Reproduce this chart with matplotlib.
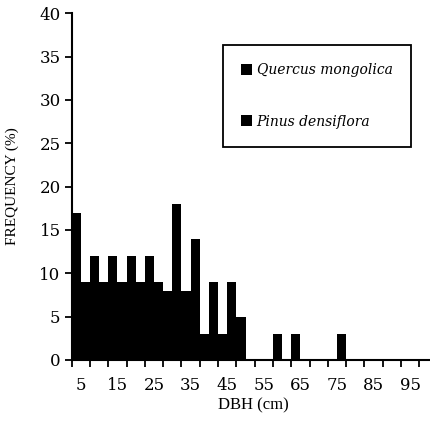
import numpy as np
from matplotlib import pyplot as plt
from matplotlib.patches import Patch

# DBH classes (cm) and frequency (%) for the two species
dbh_classes = [5, 10, 15, 20, 25, 30, 35, 40, 45, 50, 55, 60, 65, 70, 75, 80, 85, 90, 95, 100]
quercus = [17, 12, 12, 12, 12, 8, 8, 3, 3, 5, 0, 3, 3, 0, 0, 0, 0, 0, 0, 0]
pinus = [9, 9, 9, 9, 9, 18, 14, 9, 9, 0, 0, 0, 0, 0, 3, 0, 0, 0, 0, 0]
x_labels = ['5', '15', '25', '35', '45', '55', '65', '75', '85', '95']
y_ticks = [0, 5, 10, 15, 20, 25, 30, 35, 40]

fig = plt.figure(figsize=(4.31, 4.26), dpi=100)
ax = fig.add_axes([71.7/431, 66/426, (431-71.7)/431, 346.7/426])

ind = np.arange(len(dbh_classes))
width = 0.5
p1 = ax.bar(ind + 0.25, quercus, width, color='black', linewidth=0)
p2 = ax.bar(ind + 0.75, pinus, width, color='black', linewidth=0)

ax.set_xlim(0, (431-71.7)/18.3)
ax.set_ylim(0, 40)

# tick marks on class borders, labels centred on every other class
ax.set_xticks(ind)
ax.set_xticklabels([])
ax.set_xticks(ind[::2] + 0.5, minor=True)
ax.set_xticklabels(x_labels, minor=True, fontfamily='DejaVu Serif', fontsize=12)
ax.tick_params(axis='x', which='major', direction='out', length=5, width=1.3)
ax.tick_params(axis='x', which='minor', length=0, pad=12)

ax.set_yticks(y_ticks)
ax.set_yticklabels([str(v) for v in y_ticks], fontfamily='DejaVu Serif', fontsize=12)
ax.tick_params(axis='y', direction='out', length=5, width=1.3, pad=3)

for s in ['top', 'right']:
	ax.spines[s].set_visible(False)
for s in ['left', 'bottom']:
	ax.spines[s].set_linewidth(1.5)

ax.set_xlabel('DBH (cm)', fontfamily='Liberation Serif', fontsize=12)
ax.xaxis.set_label_coords((253-71.7)/(431-71.7), -37/346.7)
ax.set_ylabel('FREQUENCY (%)', fontfamily='Liberation Serif', fontsize=11)
ax.yaxis.set_label_coords(-53/(431-71.7), (360-186)/346.7)

handles = [Patch(facecolor='black'), Patch(facecolor='black')]
leg = ax.legend(handles, ['Quercus mongolica', 'Pinus densiflora'],
	loc='upper left', bbox_to_anchor=(223.3/431, 1-45/426), bbox_transform=fig.transFigure,
	borderaxespad=0, fancybox=False, frameon=True, edgecolor='black',
	prop={'family': 'DejaVu Serif', 'style': 'italic', 'size': 10},
	handlelength=0.8, handleheight=0.8, handletextpad=0.3,
	labelspacing=2.7, borderpad=1.3)
leg.get_frame().set_linewidth(1.3)
leg.get_frame().set_alpha(None)
leg.get_frame().set_facecolor('white')

plt.savefig('out.png', dpi=100)
